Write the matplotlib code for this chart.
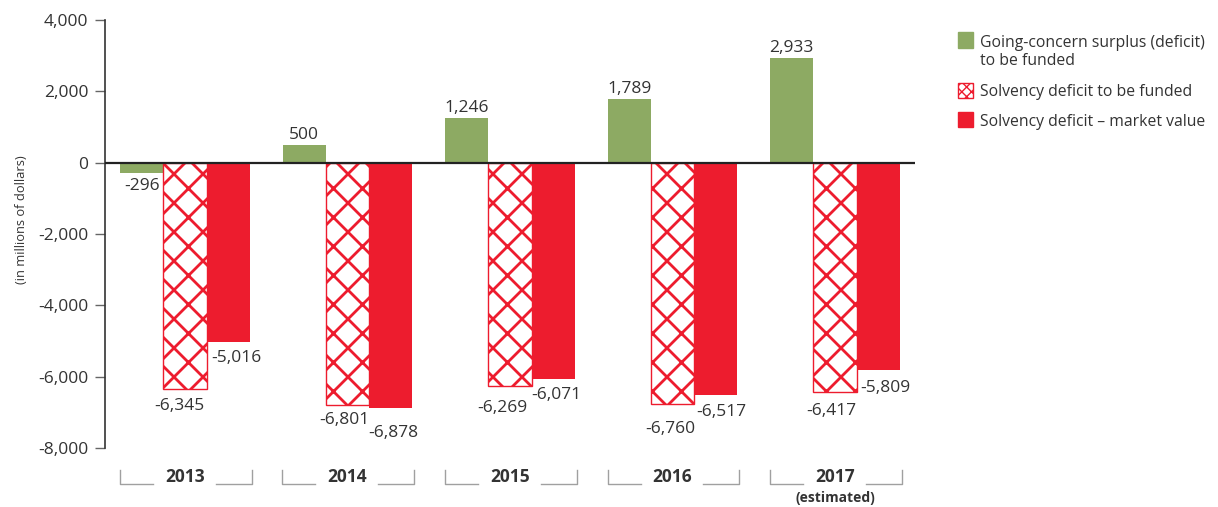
import matplotlib
matplotlib.use("Agg")
import matplotlib.pyplot as plt
from matplotlib.patches import Rectangle
from matplotlib.transforms import blended_transform_factory
import numpy as np

plt.rcParams['font.family'] = ['Open Sans', 'DejaVu Sans']

years = ["2013", "2014", "2015", "2016", "2017"]
going_concern = [-296, 500, 1246, 1789, 2933]
solvency_funded = [-6345, -6801, -6269, -6760, -6417]
solvency_market = [-5016, -6878, -6071, -6517, -5809]
legend_labels = ["Going-concern surplus (deficit)\nto be funded",
                 "Solvency deficit to be funded",
                 "Solvency deficit \u2013 market value"]
yticks = [4000, 2000, 0, -2000, -4000, -6000, -8000]

GREEN = "#8DAA63"
RED = "#ED1C2E"
TXT = "#333333"

W, H = 1218, 507
DPI = 87  # chosen so that the 'x' hatch spacing matches the reference
S = 100 / DPI  # point-size scale so sizes look as at 100 dpi


def P(v):
    return v * S


plt.rcParams['hatch.linewidth'] = 2.0 * S

fig = plt.figure(figsize=(W / DPI, H / DPI), dpi=DPI)
ax = fig.add_axes([105 / W, 1 - 448 / H, 810 / W, 428 / H])

x = np.arange(len(years))
bw = 0.266
ax.bar(x - bw, going_concern, bw, color=GREEN, zorder=2)
ax.bar(x, solvency_funded, bw, facecolor="white", edgecolor=RED, hatch="x",
       linewidth=P(1.0), zorder=2)
ax.bar(x + bw, solvency_market, bw, color=RED, zorder=2)

ax.set_xlim(-0.492, 4.492)
ax.set_ylim(-8000, 4000)
ax.set_yticks(yticks)
ax.set_yticklabels([f"{v:,}" for v in yticks], color=TXT, fontsize=P(12.5))
ax.set_xticks([])
ax.axhline(0, color="#222222", lw=P(1.6), zorder=3)
for s in ["top", "right", "bottom"]:
    ax.spines[s].set_visible(False)
ax.spines["left"].set_color("#333333")
ax.spines["left"].set_linewidth(P(1.2))
ax.tick_params(axis="y", direction="out", length=P(7), width=P(1), color="#666666", pad=P(5))
ax.set_ylabel("(in millions of dollars)", fontsize=P(9.3), color=TXT)
ax.yaxis.set_label_coords((22 - 105) / 810, (448 - 220) / 428)
ax.yaxis.label.set_verticalalignment("center")

lab_kw = dict(fontsize=P(12.5), color=TXT, textcoords="offset pixels", ha="center", va="baseline")
for i, v in enumerate(going_concern):
    dy = 6 if v >= 0 else -17
    ax.annotate(f"{v:,}", (x[i] - bw, v), xytext=(0, dy), **lab_kw)

# (dx, dy) pixel offsets of label centres from bar ends
off_funded = [(-6, 15), (-3.5, 13), (-7.5, 20), (-2.5, 23), (-3.5, 17)]
off_market = [(8.5, 14), (2.5, 23), (3.5, 14), (5.5, 15), (7.5, 16)]
for i, v in enumerate(solvency_funded):
    dx, dy = off_funded[i]
    ax.annotate(f"{v:,}", (x[i], v), xytext=(dx, -(dy + 6)), **lab_kw)
for i, v in enumerate(solvency_market):
    dx, dy = off_market[i]
    ax.annotate(f"{v:,}", (x[i] + bw, v), xytext=(dx, -(dy + 6)), **lab_kw)

# category brackets
tr = blended_transform_factory(ax.transData, fig.transFigure)
y_top, y_bot, y_txt = 1 - 470 / H, 1 - 484 / H, 1 - 477 / H
for i, yr in enumerate(years):
    c = x[i]
    ax.plot([c - 0.40, c - 0.40, c - 0.197], [y_top, y_bot, y_bot], color="#A0A0A0", lw=P(1),
            transform=tr, clip_on=False)
    ax.plot([c + 0.19, c + 0.41, c + 0.41], [y_bot, y_bot, y_top], color="#A0A0A0", lw=P(1),
            transform=tr, clip_on=False)
    ax.text(c, y_txt, yr, transform=tr, ha="center", va="center", fontsize=P(12.5),
            fontweight="bold", color=TXT)
ax.text(x[-1], 1 - 498 / H, "(estimated)", transform=tr, ha="center", va="center",
        fontsize=P(10), fontweight="bold", color=TXT)

# legend (manual)
plt.rcParams['hatch.linewidth'] = 1.0 * S
sq = 15
line_px = 19
entries = [(GREEN, None, 40), ("white", "xxx", 90.5), (RED, None, 119.5)]
for (fc, hatch, yc), lab in zip(entries, legend_labels):
    r = Rectangle((958 / W, 1 - (yc + sq / 2) / H), sq / W, sq / H, transform=fig.transFigure,
                  facecolor=fc, edgecolor=RED if hatch else fc, hatch=hatch, lw=P(1))
    fig.patches.append(r)
    n_extra = lab.count("\n")
    fig.text(980 / W, 1 - (yc + 6 + n_extra * line_px) / H, lab, ha="left", va="baseline",
             fontsize=P(11.3), color=TXT, linespacing=1.2)

fig.savefig("out.png", dpi=DPI)
